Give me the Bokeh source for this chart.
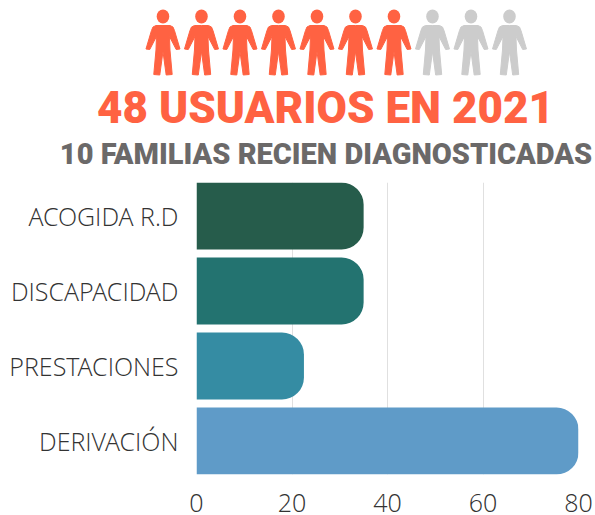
from bokeh.plotting import figure
from bokeh.layouts import column
from bokeh.models import Range1d, FixedTicker, Label, ColumnDataSource
from bokeh.embed import file_html
from bokeh.resources import INLINE

# --- data ---
categories = ["ACOGIDA R.D", "DISCAPACIDAD", "PRESTACIONES", "DERIVACIÓN"]
values = [35, 35, 22.5, 80]
bar_colors = ["#265C4B", "#237370", "#358CA3", "#5F9BC8"]
x_ticks = [0, 20, 40, 60, 80]
people_total = 10
people_filled = 7
title_text = "48 USUARIOS EN 2021"
subtitle_text = "10 FAMILIAS RECIEN DIAGNOSTICADAS"

ORANGE = "#FF6242"
GREY = "#CCCCCC"
SUB = "#6B6969"
W = 594

# --- pictogram strip and headings ---
top = figure(width=W, height=182, output_backend="svg", toolbar_location=None,
             x_range=Range1d(-4.22, 11.208), y_range=Range1d(182, 0),
             min_border=0, outline_line_color=None, frame_align=False)
top.axis.visible = False
top.grid.visible = False
top.xaxis.visible = False
top.yaxis.visible = False

half_body = [(0, 25), (7, 25), (10, 26.5), (11.5, 30), (17, 48.5), (13.2, 49),
             (6.5, 36), (7, 49.5), (9.2, 74), (3.2, 74.5), (0, 51)]
body_x = [d / 38.5 for d, _ in half_body] + [-d / 38.5 for d, _ in reversed(half_body)]
body_y = [h for _, h in half_body] + [h for _, h in reversed(half_body)]

colors = [ORANGE if i < people_filled else GREY for i in range(people_total)]
xs = [[i + bx for bx in body_x] for i in range(people_total)]
ys = [body_y for _ in range(people_total)]
top.patches(xs, ys, fill_color=colors, line_color=colors, line_width=1, line_join="round")
top.ellipse(x=list(range(people_total)), y=[16] * people_total, width=12.6 / 38.5, height=14,
            fill_color=colors, line_color=None)

top.add_layout(Label(x=325, y=107, x_units="screen", text=title_text, text_align="center",
                     text_baseline="alphabetic", text_font="Roboto Black", text_font_style="normal",
                     text_font_size="44px", text_color=ORANGE))
top.add_layout(Label(x=325.5, y=153.5, x_units="screen", text=subtitle_text, text_align="center",
                     text_baseline="alphabetic", text_font="Roboto Black", text_font_style="normal",
                     text_font_size="29px", text_color=SUB))

# --- bars ---
ypos = list(range(len(categories)))
BAR_H = 67 / 75
src = ColumnDataSource(dict(y=ypos, right=values, color=bar_colors))
p = figure(width=W, height=332, output_backend="svg", toolbar_location=None,
           x_range=Range1d(0, 80), y_range=Range1d(len(categories) - 1 + BAR_H / 2, -BAR_H / 2),
           min_border_left=196, min_border_right=16, min_border_top=0, min_border_bottom=40,
           frame_width=382, frame_height=292, outline_line_color=None, frame_align=False)
p.hbar(y="y", left=0, right="right", height=BAR_H, fill_color="color", line_color=None, source=src,
       border_radius=(0, 22, 22, 0))
p.xgrid.ticker = FixedTicker(ticks=x_ticks)
p.xgrid.grid_line_color = "#E0E0E0"
p.ygrid.visible = False
p.xaxis.ticker = FixedTicker(ticks=x_ticks)
p.yaxis.ticker = FixedTicker(ticks=ypos)
p.yaxis.major_label_overrides = {i: c for i, c in enumerate(categories)}
for ax in (p.xaxis[0], p.yaxis[0]):
    ax.axis_line_color = None
    ax.major_tick_line_color = None
    ax.minor_tick_line_color = None
    ax.major_label_text_font = "Open Sans Light"
    ax.major_label_text_font_size = "25px"
    ax.major_label_text_color = "#333333"
p.yaxis.major_label_standoff = 12
p.xaxis.major_label_standoff = 13

layout = column(top, p, spacing=0)
open("out.html", "w").write(file_html(layout, INLINE))
